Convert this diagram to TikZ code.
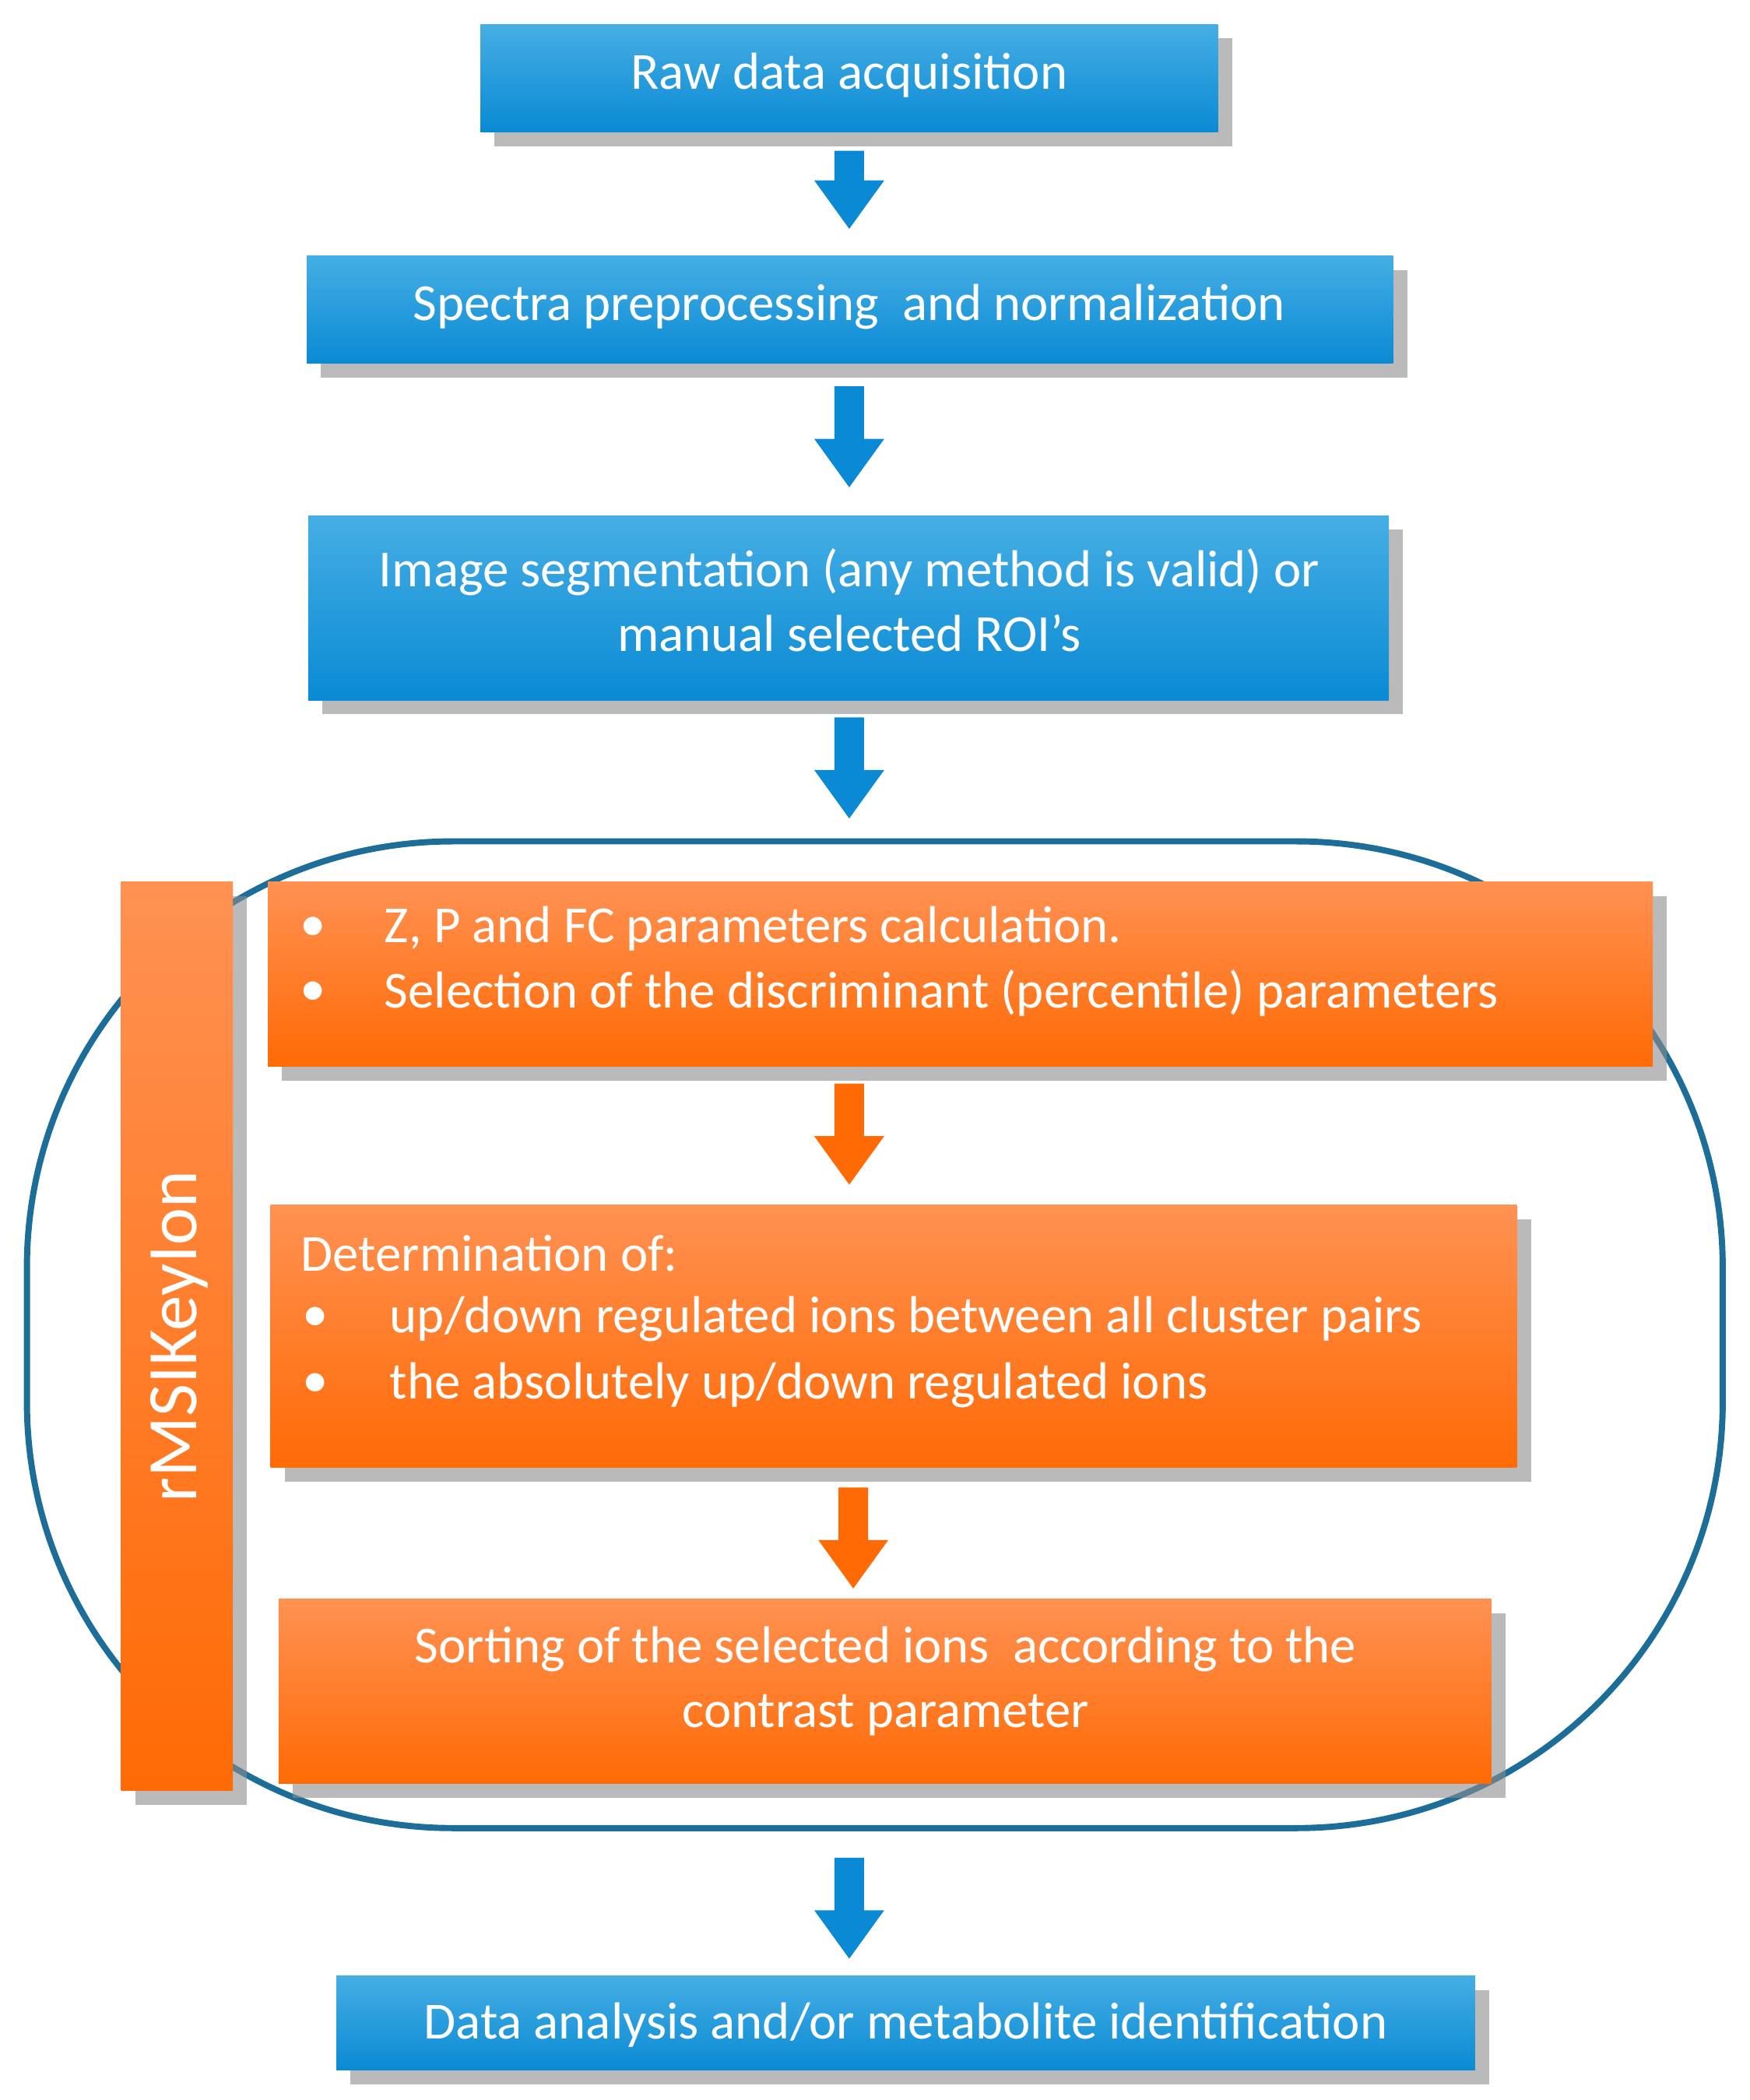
\documentclass[tikz,border=0pt]{standalone}
\usepackage{fontspec}
\setmainfont{Carlito}
\usetikzlibrary{shadows}
\begin{document}
\definecolor{btop}{HTML}{45AEE4}
\definecolor{bbot}{HTML}{0A8AD4}
\definecolor{otop}{HTML}{FF9152}
\definecolor{obot}{HTML}{FF6A05}
\definecolor{frame}{HTML}{1C6E98}
\begin{tikzpicture}[x=0.01cm,y=-0.01cm,
  box/.style={draw=none,drop shadow={shadow xshift=3pt,shadow yshift=-3pt,fill=black!45,opacity=.6},inner sep=0},
  bluebox/.style={box,top color=btop,bottom color=bbot},
  orbox/.style={box,top color=otop,bottom color=obot},
  txt/.style={text=white,font=\fontsize{11}{13.6}\selectfont,align=center},
  ltxt/.style={text=white,font=\fontsize{11}{13.6}\selectfont,anchor=west,inner sep=0}]
\useasboundingbox (0,0) rectangle (1300,1560);
\newcommand\blockarrow[4]{%
  \fill[#4] (#1-11,#2) -- (#1+11,#2) -- (#1+11,#3-36) -- (#1+26,#3-36) -- (#1,#3) -- (#1-26,#3-36) -- (#1-11,#3-36) -- cycle;}
% frame
\draw[frame,line width=1.3pt,rounded corners=90] (20,625) rectangle (1280,1358);
% blue boxes
\path[bluebox] (357,18) rectangle (905,98);
\node[txt] (raw) at (631,56) {Raw data acquisition};
\path[bluebox] (228,190) rectangle (1035,270);
\node[txt] (spec) at (631,228) {Spectra preprocessing\ \ and normalization};
\path[bluebox] (229,383) rectangle (1032,520);
\node[txt] (seg) at (631,446) {Image segmentation (any method is valid) or\\manual selected ROI’s};
\path[bluebox] (250,1468) rectangle (1096,1538);
\node[txt] (data) at (673,1504) {Data analysis and/or metabolite identification};
% orange
\path[orbox] (90,655) rectangle (173,1330);
\node[txt,rotate=90,font=\fontsize{15}{18}\selectfont] (key) at (133,993) {rMSIKeyIon};
\path[orbox] (199,655) rectangle (1228,792);
\node[ltxt] (b1a) at (222,690) {•};
\node[ltxt] (t1a) at (285,690) {Z, P and FC parameters calculation.};
\node[ltxt] (b1b) at (222,738) {•};
\node[ltxt] (t1b) at (285,738) {Selection of the discriminant (percentile) parameters};
\path[orbox] (201,895) rectangle (1127,1090);
\node[ltxt] (t2) at (223,931) {Determination of:};
\node[ltxt] (b2a) at (224,980) {•};
\node[ltxt] (t2a) at (289,980) {up/down regulated ions between all cluster pairs};
\node[ltxt] (b2b) at (224,1029) {•};
\node[ltxt] (t2b) at (289,1029) {the absolutely up/down regulated ions};
\path[orbox] (207,1188) rectangle (1108,1325);
\node[txt] (sort) at (658,1249) {Sorting of the selected ions\ \ according to the\\contrast parameter};
% arrows
\blockarrow{631}{112}{170}{bbot}
\blockarrow{631}{287}{362}{bbot}
\blockarrow{631}{533}{608}{bbot}
\blockarrow{631}{805}{880}{obot}
\blockarrow{634}{1105}{1180}{obot}
\blockarrow{631}{1380}{1455}{bbot}
\end{tikzpicture}
\end{document}
